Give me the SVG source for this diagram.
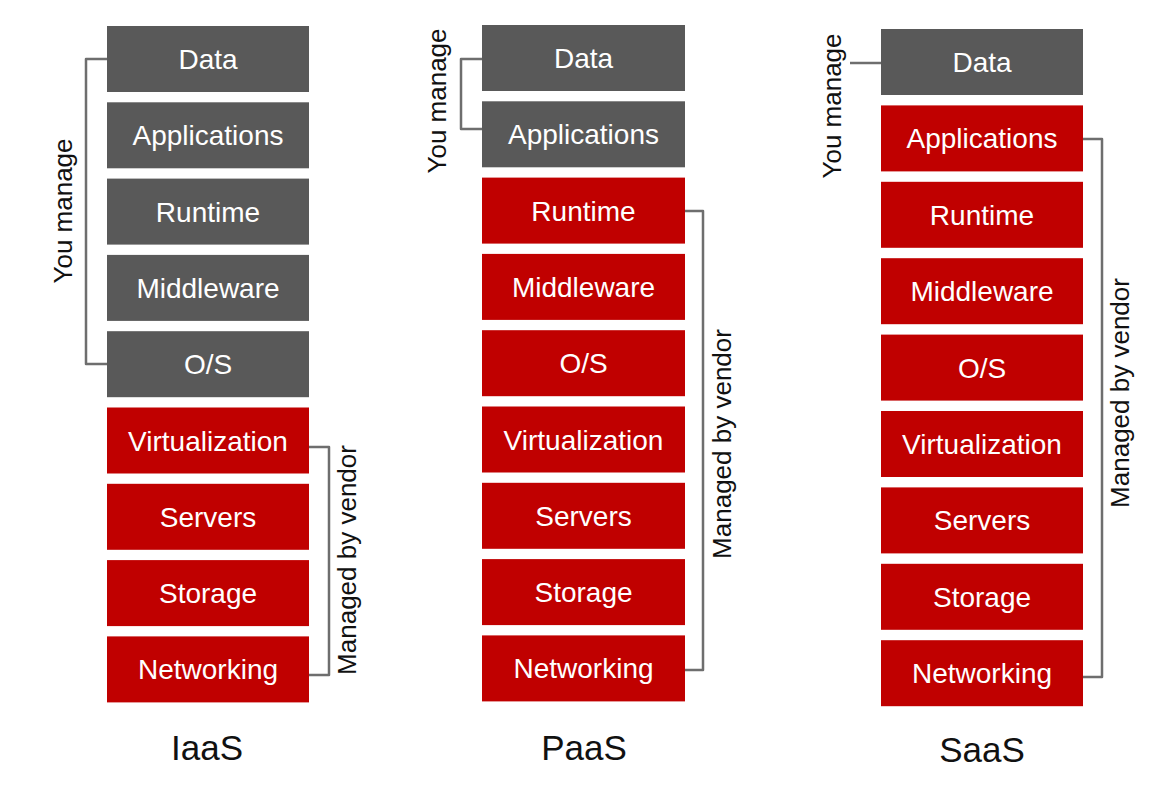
<svg xmlns="http://www.w3.org/2000/svg" width="1167" height="793" viewBox="0 0 1167 793">
<style>
.g{fill:#595959}
.r{fill:#c00000}
.t{font-family:"Liberation Sans",Arial,sans-serif;font-size:28px;fill:#ffffff;text-anchor:middle}
.s{font-family:"Liberation Sans",Arial,sans-serif;font-size:26px;fill:#111111;text-anchor:middle}
.h{font-family:"Liberation Sans",Arial,sans-serif;font-size:35px;fill:#111111;text-anchor:middle}
.b{fill:none;stroke:#6e6e6e;stroke-width:2.5;stroke-linejoin:round}
</style>
<rect width="1167" height="793" fill="#ffffff"/>
<g id="iaas">
<g id="iaas-data"><rect class="g" x="107" y="26" width="202" height="66"/><text class="t" x="208" y="69">Data</text></g>
<g id="iaas-applications"><rect class="g" x="107" y="102.3" width="202" height="66"/><text class="t" x="208" y="145.3">Applications</text></g>
<g id="iaas-runtime"><rect class="g" x="107" y="178.6" width="202" height="66"/><text class="t" x="208" y="221.6">Runtime</text></g>
<g id="iaas-middleware"><rect class="g" x="107" y="254.9" width="202" height="66"/><text class="t" x="208" y="297.9">Middleware</text></g>
<g id="iaas-os"><rect class="g" x="107" y="331.2" width="202" height="66"/><text class="t" x="208" y="374.2">O/S</text></g>
<g id="iaas-virtualization"><rect class="r" x="107" y="407.5" width="202" height="66"/><text class="t" x="208" y="450.5">Virtualization</text></g>
<g id="iaas-servers"><rect class="r" x="107" y="483.8" width="202" height="66"/><text class="t" x="208" y="526.8">Servers</text></g>
<g id="iaas-storage"><rect class="r" x="107" y="560.1" width="202" height="66"/><text class="t" x="208" y="603.1">Storage</text></g>
<g id="iaas-networking"><rect class="r" x="107" y="636.4" width="202" height="66"/><text class="t" x="208" y="679.4">Networking</text></g>
<text class="h" x="207" y="760">IaaS</text>
</g>
<g id="paas">
<g id="paas-data"><rect class="g" x="482" y="25" width="203" height="66"/><text class="t" x="583.5" y="68">Data</text></g>
<g id="paas-applications"><rect class="g" x="482" y="101.3" width="203" height="66"/><text class="t" x="583.5" y="144.3">Applications</text></g>
<g id="paas-runtime"><rect class="r" x="482" y="177.6" width="203" height="66"/><text class="t" x="583.5" y="220.6">Runtime</text></g>
<g id="paas-middleware"><rect class="r" x="482" y="253.9" width="203" height="66"/><text class="t" x="583.5" y="296.9">Middleware</text></g>
<g id="paas-os"><rect class="r" x="482" y="330.2" width="203" height="66"/><text class="t" x="583.5" y="373.2">O/S</text></g>
<g id="paas-virtualization"><rect class="r" x="482" y="406.5" width="203" height="66"/><text class="t" x="583.5" y="449.5">Virtualization</text></g>
<g id="paas-servers"><rect class="r" x="482" y="482.8" width="203" height="66"/><text class="t" x="583.5" y="525.8">Servers</text></g>
<g id="paas-storage"><rect class="r" x="482" y="559.1" width="203" height="66"/><text class="t" x="583.5" y="602.1">Storage</text></g>
<g id="paas-networking"><rect class="r" x="482" y="635.4" width="203" height="66"/><text class="t" x="583.5" y="678.4">Networking</text></g>
<text class="h" x="584" y="760">PaaS</text>
</g>
<g id="saas">
<g id="saas-data"><rect class="g" x="881" y="29" width="202" height="66"/><text class="t" x="982" y="72">Data</text></g>
<g id="saas-applications"><rect class="r" x="881" y="105.4" width="202" height="66"/><text class="t" x="982" y="148.4">Applications</text></g>
<g id="saas-runtime"><rect class="r" x="881" y="181.8" width="202" height="66"/><text class="t" x="982" y="224.8">Runtime</text></g>
<g id="saas-middleware"><rect class="r" x="881" y="258.2" width="202" height="66"/><text class="t" x="982" y="301.2">Middleware</text></g>
<g id="saas-os"><rect class="r" x="881" y="334.6" width="202" height="66"/><text class="t" x="982" y="377.6">O/S</text></g>
<g id="saas-virtualization"><rect class="r" x="881" y="411" width="202" height="66"/><text class="t" x="982" y="454">Virtualization</text></g>
<g id="saas-servers"><rect class="r" x="881" y="487.4" width="202" height="66"/><text class="t" x="982" y="530.4">Servers</text></g>
<g id="saas-storage"><rect class="r" x="881" y="563.8" width="202" height="66"/><text class="t" x="982" y="606.8">Storage</text></g>
<g id="saas-networking"><rect class="r" x="881" y="640.2" width="202" height="66"/><text class="t" x="982" y="683.2">Networking</text></g>
<text class="h" x="982" y="762">SaaS</text>
</g>
<g id="connectors">
<path class="b" d="M107 59 H86 V364 H107"/>
<path class="b" d="M309 447 H329 V675 H309"/>
<path class="b" d="M482 59 H461 V129 H482"/>
<path class="b" d="M685 211 H703 V670 H685"/>
<path class="b" d="M881 63 H850"/>
<path class="b" d="M1083 139 H1102 V677 H1083"/>
</g>
<g id="labels">
<text class="s" transform="translate(72,211) rotate(-90)">You manage</text>
<text class="s" transform="translate(356,560) rotate(-90)">Managed by vendor</text>
<text class="s" transform="translate(446,101) rotate(-90)">You manage</text>
<text class="s" transform="translate(731,444) rotate(-90)">Managed by vendor</text>
<text class="s" transform="translate(841,106) rotate(-90)">You manage</text>
<text class="s" transform="translate(1129,393) rotate(-90)">Managed by vendor</text>
</g>
</svg>
